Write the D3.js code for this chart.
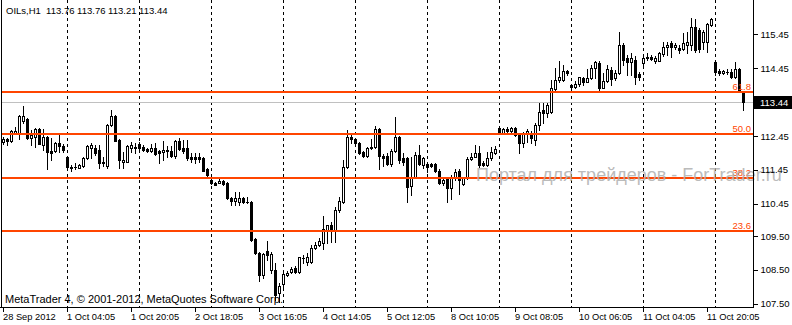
<!DOCTYPE html>
<html>
<head>
<meta charset="utf-8">
<script src="https://cdn.jsdelivr.net/npm/d3@7"></script>
<style>
  body { margin: 0; background: #fff; }
  svg { display: block; }
  text { font-family: "Liberation Sans", Arial, sans-serif; }
</style>
</head>
<body>
<script>
// OILs H1 bars, 28 Sep 2012 06:05 .. 12 Oct 2012 11:05
const opens = [112.27,112.37,112.30,112.54,112.54,112.89,112.95,112.39,112.43,112.65,
  112.18,112.42,112.00,112.01,112.23,112.15,111.82,111.55,111.53,111.52,
  111.56,111.79,112.09,112.09,112.04,111.69,111.56,112.77,113.04,112.33,
  111.69,111.69,112.09,112.12,112.21,112.14,112.06,112.01,112.09,112.01,
  111.98,112.00,112.01,111.86,112.31,112.09,112.09,111.82,111.82,111.82,
  111.79,111.47,111.15,111.05,111.07,111.13,111.05,110.63,110.53,110.51,
  110.63,110.51,110.49,109.40,109.01,108.35,109.06,108.49,108.51,107.81,
  108.08,108.35,108.44,108.57,108.44,108.84,108.74,108.74,109.16,109.23,
  109.30,109.68,109.82,109.68,110.27,110.51,111.53,112.41,112.35,112.23,
  111.98,111.86,112.09,112.12,112.65,111.86,111.86,111.62,112.01,112.43,
  111.79,111.79,110.97,111.25,111.89,111.59,111.62,111.61,111.61,111.43,
  111.05,111.20,110.91,111.20,111.43,111.03,111.20,111.76,111.84,111.94,
  111.66,111.59,111.80,111.96,112.68,112.55,112.65,112.61,112.68,112.51,
  112.25,112.52,112.55,112.33,112.77,113.22,113.12,113.17,113.83,114.10,
  114.10,114.37,113.95,113.90,113.98,114.15,114.05,114.15,114.47,114.61,
  113.88,114.08,114.40,114.15,114.32,115.13,114.74,114.64,114.69,114.27,
  114.61,114.74,114.77,114.67,114.67,114.87,115.08,115.18,115.08,115.06,
  115.01,115.13,115.13,115.67,115.58,115.23,115.23,115.72,114.64,114.38,
  114.32,114.35,114.35,114.18,114.42,113.76];

const highs = [112.43,112.40,112.63,112.73,113.07,113.33,112.98,112.63,112.68,112.68,
  112.65,112.45,112.39,112.27,112.48,112.21,111.86,111.59,111.64,111.62,
  111.84,112.18,112.23,112.18,112.18,111.82,112.80,113.22,113.07,112.36,
  111.99,112.17,112.28,112.23,112.28,112.18,112.10,112.20,112.25,112.05,
  112.30,112.15,112.15,112.33,112.38,112.33,112.33,111.96,111.94,111.96,
  111.83,111.50,111.18,111.08,111.17,111.15,111.08,110.66,110.81,110.81,
  110.66,110.66,110.53,109.44,109.03,109.01,109.36,109.03,108.70,108.11,
  108.45,108.47,108.59,108.61,108.89,108.94,108.99,109.23,109.33,109.43,
  110.09,109.82,109.92,110.36,110.66,111.74,112.63,112.48,112.39,112.27,
  112.01,112.14,112.35,112.74,112.68,111.92,111.95,112.06,113.00,112.46,
  111.94,111.83,111.84,111.99,112.18,111.84,111.69,111.65,111.65,111.48,
  111.20,111.24,111.30,111.47,111.47,111.25,111.84,111.96,112.18,112.15,
  111.71,111.98,112.14,112.15,112.72,112.68,112.71,112.73,112.71,112.54,
  112.58,112.65,112.60,112.82,113.41,113.41,113.42,114.10,114.45,114.67,
  114.54,114.40,113.98,114.08,114.20,114.20,114.42,114.54,114.67,114.66,
  114.30,114.54,114.49,114.40,115.52,115.20,114.84,114.89,114.81,114.34,
  114.79,114.89,114.84,114.81,114.93,115.23,115.23,115.26,115.20,115.13,
  115.50,115.52,115.92,115.89,115.63,115.58,115.78,115.92,114.64,114.42,
  114.40,114.42,114.42,114.64,114.45,113.76];

const lows = [112.21,112.18,112.27,112.51,112.36,112.83,112.36,112.18,112.14,112.20,
  112.04,111.47,111.74,111.99,111.98,111.98,111.52,111.43,111.49,111.51,
  111.53,111.77,111.79,111.89,111.50,111.56,111.52,112.74,112.29,111.50,
  111.52,111.67,111.99,111.94,112.07,112.01,111.98,111.99,111.89,111.64,
  111.74,111.84,111.83,111.79,112.04,111.96,111.74,111.69,111.66,111.69,
  111.42,111.25,111.02,110.99,111.05,111.00,110.60,110.41,110.41,110.41,
  110.46,110.46,109.35,108.96,108.18,108.25,108.79,108.40,107.61,107.56,
  108.00,108.32,108.40,108.40,108.40,108.69,108.64,108.70,109.13,109.20,
  109.13,109.28,109.33,109.33,110.21,110.47,111.50,112.23,112.18,111.92,
  111.84,111.83,112.06,112.09,111.47,111.56,111.60,111.56,111.98,111.66,
  111.59,110.51,110.71,111.23,111.59,111.50,111.40,111.53,111.39,111.03,
  111.00,110.49,110.58,111.15,110.74,111.00,111.18,111.74,111.82,111.54,
  111.56,111.56,111.74,111.92,112.51,112.53,112.53,112.58,112.46,111.94,
  112.14,112.28,112.23,112.18,112.63,112.83,113.00,113.14,113.81,114.05,
  114.08,114.25,113.78,113.88,113.92,113.95,114.03,114.13,114.15,113.81,
  113.86,114.05,113.95,114.10,114.29,114.54,114.25,114.25,113.98,114.10,
  114.54,114.69,114.69,114.61,114.65,114.81,114.84,114.79,115.01,114.89,
  115.00,114.89,114.99,114.93,114.93,115.01,114.93,115.69,114.25,114.25,
  114.28,114.28,114.15,114.15,113.75,113.21];

const closes = [112.37,112.30,112.60,112.61,113.04,113.04,112.39,112.48,112.65,112.21,
  112.43,111.98,111.96,112.25,112.15,112.04,111.54,111.52,111.55,111.59,
  111.81,112.15,112.18,111.96,111.64,111.64,112.77,113.04,112.31,111.74,
  111.74,112.15,112.18,112.11,112.09,112.04,112.00,112.09,111.92,111.96,
  112.04,112.04,111.86,112.30,112.06,112.01,111.79,111.78,111.78,111.76,
  111.43,111.30,111.05,111.01,111.13,111.03,110.62,110.54,110.63,110.63,
  110.51,110.49,109.38,109.01,108.35,108.96,108.94,108.96,107.76,108.02,
  108.38,108.42,108.54,108.44,108.87,108.85,108.87,109.16,109.23,109.36,
  109.70,109.82,109.68,110.27,110.54,111.54,112.43,112.35,112.23,111.94,
  111.86,112.09,112.14,112.65,111.86,111.79,111.62,112.01,112.41,111.74,
  111.69,110.95,111.25,111.89,111.62,111.79,111.54,111.56,111.41,111.05,
  111.15,110.91,111.20,111.40,111.15,111.20,111.76,111.84,111.94,111.59,
  111.59,111.80,111.98,112.06,112.53,112.65,112.61,112.68,112.48,112.25,
  112.55,112.61,112.38,112.77,113.17,113.14,113.36,113.88,114.10,114.20,
  114.37,114.30,113.90,113.98,114.18,114.05,114.15,114.47,114.64,113.88,
  114.08,114.42,114.12,114.32,115.13,114.69,114.64,114.74,114.20,114.20,
  114.74,114.79,114.71,114.74,114.89,115.08,115.13,115.08,115.13,114.99,
  115.20,115.23,115.67,114.99,115.01,115.52,115.75,115.89,114.35,114.32,
  114.37,114.33,114.18,114.42,113.76,113.44];

// time axis labels every 16 bars
const timeLabels = ["28 Sep 2012","1 Oct 04:05","1 Oct 20:05","2 Oct 18:05","3 Oct 16:05",
  "4 Oct 14:05","5 Oct 12:05","8 Oct 10:05","9 Oct 08:05","10 Oct 06:05","11 Oct 04:05","11 Oct 20:05"];
// first bar of each trading day
const dayStarts = [16,34,52,70,88,106,124,142,160,178];

const priceTicks = [115.45,114.45,112.45,111.45,110.45,109.50,108.50,107.50];
const fibLevels = ["61.8","50.0","38.2","23.6"];
const fibPrices = [113.75,112.50,111.22,109.66];

const lastPrice = 113.44;
const titleText = "OILs,H1  113.76 113.76 113.21 113.44";

const width = 792, height = 325;
const left = 1.5, right = 753.5, bottom = 307.5;

const svg = d3.select("body").append("svg")
  .attr("width", width)
  .attr("height", height)
  .style("shape-rendering", "crispEdges");

const n = closes.length;
const x = d3.scaleLinear().domain([0, n - 1]).range([3.5, 3.5 + 4 * (n - 1)]);
const y = d3.scaleLinear().domain([107.50, 115.45]).range([303.8, 34.3]);
const py = v => Math.round(y(v)) + 0.5;

// frame
svg.append("line").attr("x1", left).attr("x2", left).attr("y1", 0).attr("y2", bottom).attr("stroke", "#000");

// day separators
svg.append("g").selectAll("line")
  .data(dayStarts)
  .enter()
  .append("line")
  .attr("x1", d => x(d)).attr("x2", d => x(d))
  .attr("y1", 0).attr("y2", bottom)
  .attr("stroke", "#000")
  .attr("stroke-dasharray", "3,3");

// last price line
svg.append("line")
  .attr("x1", left).attr("x2", right)
  .attr("y1", py(lastPrice)).attr("y2", py(lastPrice))
  .attr("stroke", "#c0c0c0");

// candles
const bars = d3.range(n).map(i => ({ i, o: opens[i], h: highs[i], l: lows[i], c: closes[i] }));
const cg = svg.append("g");

cg.selectAll(".wick")
  .data(bars)
  .enter()
  .append("line")
  .attr("class", "wick")
  .attr("x1", d => x(d.i)).attr("x2", d => x(d.i))
  .attr("y1", d => Math.round(y(d.h))).attr("y2", d => Math.round(y(d.l)) + 1)
  .attr("stroke", "#000");

cg.selectAll(".body")
  .data(bars)
  .enter()
  .append("rect")
  .attr("class", "body")
  .each(function(d) {
    const top = Math.round(y(Math.max(d.o, d.c)));
    const bot = Math.round(y(Math.min(d.o, d.c)));
    const r = d3.select(this);
    if (d.c > d.o && bot - top >= 2) {
      r.attr("x", x(d.i) - 1).attr("y", top + 0.5)
        .attr("width", 2).attr("height", bot - top)
        .attr("fill", "#fff").attr("stroke", "#000");
    } else {
      r.attr("x", x(d.i) - 1.5).attr("y", top)
        .attr("width", 3).attr("height", Math.max(bot - top, 0) + 1)
        .attr("fill", "#000");
    }
  });

// fibonacci levels
const fg = svg.append("g");
fg.selectAll("line")
  .data(fibPrices)
  .enter()
  .append("line")
  .attr("x1", left).attr("x2", right)
  .attr("y1", d => Math.round(y(d))).attr("y2", d => Math.round(y(d)))
  .attr("stroke", "#ff4500")
  .attr("stroke-width", 2);
fg.selectAll("text")
  .data(fibPrices)
  .enter()
  .append("text")
  .attr("x", 751)
  .attr("y", d => Math.round(y(d)) - 2)
  .attr("text-anchor", "end")
  .attr("font-size", "9.5px")
  .attr("fill", "#ff4500")
  .text((d, i) => fibLevels[i]);

// watermark
svg.append("text")
  .attr("x", 476).attr("y", 181)
  .attr("font-size", "18px")
  .attr("fill", "#b0b0b0")
  .attr("opacity", 0.85)
  .style("shape-rendering", "auto")
  .text("Портал для трейдеров - ForTrader.ru");

// axes lines
svg.append("line").attr("x1", right).attr("x2", right).attr("y1", 0).attr("y2", bottom).attr("stroke", "#000");
svg.append("line").attr("x1", left - 1.5).attr("x2", right).attr("y1", bottom).attr("y2", bottom).attr("stroke", "#000");

// price axis
const yAxis = svg.append("g")
  .attr("transform", `translate(${right},0)`)
  .call(d3.axisRight(y).tickValues(priceTicks).tickSize(4).tickPadding(3).tickFormat(d3.format(".2f")));
yAxis.select(".domain").remove();
yAxis.selectAll("text")
  .attr("font-family", "Liberation Sans, Arial, sans-serif")
  .attr("font-size", "9.5px")
  .attr("fill", "#000");

// last price box
svg.append("rect")
  .attr("x", 754).attr("y", py(lastPrice) - 6.5)
  .attr("width", 38).attr("height", 13)
  .attr("fill", "#000");
svg.append("text")
  .attr("x", 760).attr("y", py(lastPrice) + 3.5)
  .attr("font-size", "9.5px")
  .attr("fill", "#fff")
  .text(d3.format(".2f")(lastPrice));

// time axis
const xg = svg.append("g");
xg.selectAll("line")
  .data(timeLabels)
  .enter()
  .append("line")
  .attr("x1", (d, i) => x(i * 16)).attr("x2", (d, i) => x(i * 16))
  .attr("y1", bottom).attr("y2", bottom + 4)
  .attr("stroke", "#000");
xg.selectAll("text")
  .data(timeLabels)
  .enter()
  .append("text")
  .attr("x", (d, i) => Math.floor(x(i * 16)))
  .attr("y", 319.5)
  .attr("font-size", "9.3px")
  .attr("fill", "#000")
  .text(d => d);

// title and copyright
svg.append("text")
  .attr("x", 6).attr("y", 14)
  .attr("font-size", "9.5px")
  .attr("fill", "#000")
  .attr("xml:space", "preserve")
  .style("white-space", "pre")
  .text(titleText);

svg.append("text")
  .attr("x", 5).attr("y", 303)
  .attr("font-size", "11px")
  .attr("fill", "#000")
  .text("MetaTrader 4, © 2001-2012, MetaQuotes Software Corp.");
</script>
</body>
</html>
